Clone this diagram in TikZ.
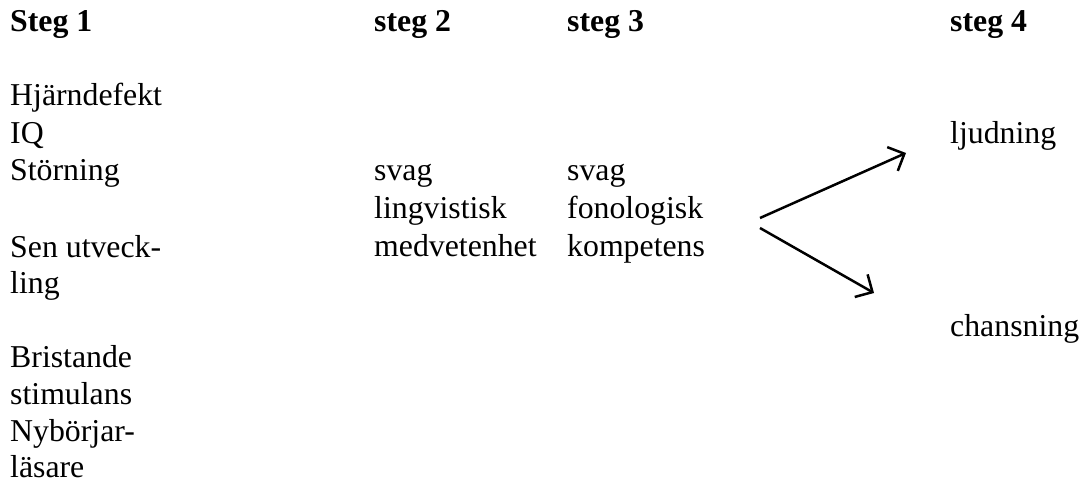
\documentclass[tikz,border=0pt]{standalone}
\usepackage{fontspec}
\setmainfont{Liberation Serif}
\usetikzlibrary{arrows.meta}
\begin{document}
\begin{tikzpicture}[x=1pt,y=-1pt,
  txt/.style={anchor=base west,inner sep=0pt,font=\fontsize{31.8}{37}\selectfont},
  head/.style={txt,font=\fontsize{31.8}{37}\selectfont\bfseries},
  arr/.style={line width=2.5pt,-{Straight Barb[length=13pt,width=26pt,line width=2.5pt]}}]
\useasboundingbox (0,0) rectangle (1086,484);
% headings
\node[head] (h1) at (10,32) {Steg 1};
\node[head] (h2) at (374,32) {steg 2};
\node[head] (h3) at (567,32) {steg 3};
\node[head] (h4) at (950,32) {steg 4};
% column 1
\node[txt] (c1a) at (10,106) {Hjärndefekt};
\node[txt] (c1b) at (10,143) {IQ};
\node[txt] (c1c) at (10,180) {Störning};
\node[txt] (c1d) at (10,257) {Sen utveck-};
\node[txt] (c1e) at (10,293) {ling};
\node[txt] (c1f) at (10,367) {Bristande};
\node[txt] (c1g) at (10,404) {stimulans};
\node[txt] (c1h) at (10,441) {Nybörjar-};
\node[txt] (c1i) at (10,477) {läsare};
% column 2
\node[txt] (c2a) at (374,180) {svag};
\node[txt] (c2b) at (374,218) {lingvistisk};
\node[txt] (c2c) at (374,256) {medvetenhet};
% column 3
\node[txt] (c3a) at (567,180) {svag};
\node[txt] (c3b) at (567,218) {fonologisk};
\node[txt] (c3c) at (567,256) {kompetens};
% column 4
\node[txt] (c4a) at (950,143) {ljudning};
\node[txt] (c4b) at (950,336) {chansning};
% arrows
\coordinate (s1) at (760,218);
\coordinate (e1) at (906,153);
\coordinate (s2) at (760,228);
\coordinate (e2) at (874,293);
\draw[arr] (s1) -- (e1);
\draw[arr] (s2) -- (e2);
\end{tikzpicture}
\end{document}
